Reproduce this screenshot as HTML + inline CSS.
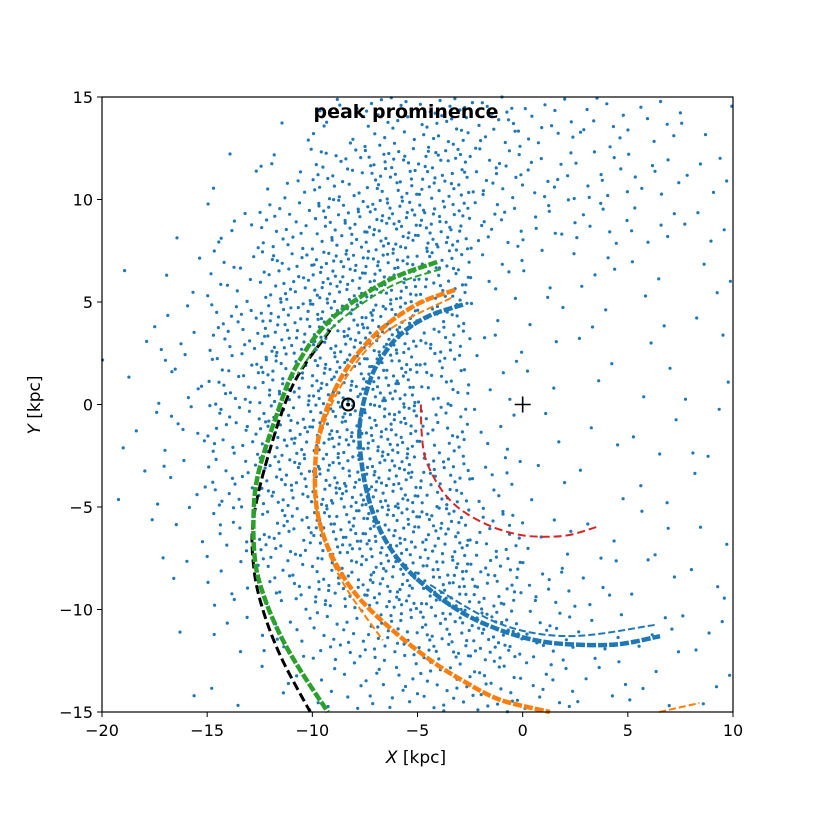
<!DOCTYPE html>
<html><head><meta charset="utf-8"><style>
body{margin:0;background:#fff}
svg{display:block;font-family:"DejaVu Sans","Liberation Sans",sans-serif}
</style></head><body>
<svg id="chart" width="814" height="814" viewBox="0 0 814 814">
<rect width="814" height="814" fill="#fff"/>
<g id="points"></g>
<g id="arcs"></g>
<g id="axes"></g>
<text x="406" y="118" text-anchor="middle" font-size="19" font-weight="bold">peak prominence</text>
<text x="416" y="763" text-anchor="middle" font-size="17"><tspan font-style="italic">X</tspan> [kpc]</text>
<text transform="translate(40,405) rotate(-90)" text-anchor="middle" font-size="17"><tspan font-style="italic">Y</tspan> [kpc]</text>
</svg>
<script>
// axis domains
const xDomain=[-20,10], yDomain=[-15,15];
const xTicks=[-20,-15,-10,-5,0,5,10];
const yTicks=[-15,-10,-5,0,5,10,15];
// density of scatter stars per 2.5 kpc cell (rows from y=15 down, cols from x=-20)
const densityRows=[
[0,0,0,2,10,20,25,20,12,10,8,3],
[0,0,3,10,25,35,35,20,12,10,8,5],
[0,1,8,20,35,45,40,15,10,8,6,4],
[1,3,12,30,45,50,35,8,4,4,3,3],
[1,6,20,40,50,50,30,5,3,3,2,2],
[2,8,22,40,50,50,25,5,2,2,2,2],
[2,8,22,40,50,50,25,6,2,2,3,2],
[2,6,18,35,50,50,35,10,3,2,2,2],
[1,4,12,30,45,50,40,20,5,3,3,2],
[0,2,8,20,35,45,45,30,12,5,3,3],
[0,1,4,12,20,30,35,35,15,6,5,4],
[0,1,2,5,10,15,20,20,12,6,4,3]];
// arc control points (kpc)
const greenArc=[[-4.07,6.95],[-6.5,6.0],[-9.15,4.12],[-10.8,1.8],[-11.78,-0.76],[-12.6,-3.5],[-12.8,-5.63],[-12.7,-7.8],[-12.25,-9.5],[-11.5,-11.3],[-10.58,-12.95],[-9.26,-15]];
const greenArc2=[[-3.9,6.6],[-6.4,5.7],[-9.0,3.8],[-10.7,1.5]];
const blackArc=[[-9.15,3.63],[-10.9,1.0],[-12.1,-2.5],[-12.8,-5.6],[-12.8,-7.8],[-12.4,-9.85],[-11.5,-12.3],[-10.1,-15]];
const orangeArc=[[-3.22,5.59],[-5.0,4.9],[-6.78,3.63],[-8.2,2.0],[-9.15,0.22],[-9.7,-1.6],[-9.87,-3.2],[-9.8,-5.0],[-9.4,-6.6],[-8.7,-8.1],[-7.73,-9.5],[-6.2,-11.0],[-4.4,-12.46],[-2.8,-13.5],[-1.08,-14.4],[1.3,-15]];
const orangeArc2=[[-3.4,5.2],[-6.8,3.3],[-9.0,0.2],[-9.9,-3.2],[-9.6,-6.0],[-8.6,-8.6],[-6.65,-11.5]];
const orangeTail=[[6.5,-15],[8.4,-14.56]];
const blueArc=[[-2.84,4.87],[-4.5,4.3],[-5.83,3.4],[-6.7,2.3],[-7.25,1.2],[-7.7,-0.6],[-7.73,-2.2],[-7.4,-4.3],[-6.78,-6.12],[-5.8,-7.7],[-4.4,-9.05],[-2.8,-10.2],[-1.08,-11],[0.6,-11.5],[2.25,-11.7],[4.5,-11.7],[6.53,-11.3]];
const blueArc2=[[-4.4,-8.8],[-1.08,-10.7],[2.25,-11.3],[6.3,-10.75]];
const redArc=[[-4.84,0],[-4.8,-1.4],[-4.6,-2.7],[-3.9,-4.1],[-2.98,-5.1],[-1.6,-5.9],[-0.13,-6.36],[1.2,-6.45],[2.25,-6.36],[3.5,-5.98]];
const sunPos=[-8.3,0], centerPos=[0,0];

const X0=102,X1=733,Y0=712,Y1=97;
function sx(v){return X0+(v-xDomain[0])/(xDomain[1]-xDomain[0])*(X1-X0);}
function sy(v){return Y0-(v-yDomain[0])/(yDomain[1]-yDomain[0])*(Y0-Y1);}
const NS="http://www.w3.org/2000/svg";
function mk(tag,attrs,parent){const e=document.createElementNS(NS,tag);for(const k in attrs)e.setAttribute(k,attrs[k]);parent.appendChild(e);return e;}
function halton(i,b){let f=1,r=0;while(i>0){f/=b;r+=f*(i%b);i=Math.floor(i/b);}return r;}

// scatter
const pg=document.getElementById('points');
const cw=(xDomain[1]-xDomain[0])/densityRows[0].length, ch=(yDomain[1]-yDomain[0])/densityRows.length;
densityRows.forEach((row,r)=>row.forEach((n,c)=>{
  const off=r*37+c*101+7;
  for(let i=0;i<n;i++){
    const fx=halton(i+off,2), fy=halton(i+off,3);
    const x=xDomain[0]+(c+fx)*cw, y=yDomain[1]-(r+fy)*ch;
    const d=mk('circle',{cx:sx(x).toFixed(1),cy:sy(y).toFixed(1),r:1.6,fill:'#1f77b4'},pg);
    
    
  }
}));

// arcs
function pathOf(pts){
  const p=pts.map(q=>[sx(q[0]),sy(q[1])]);
  let d='M'+p[0][0]+','+p[0][1];
  for(let i=0;i<p.length-1;i++){
    const a=p[i-1]||p[i],b=p[i],c=p[i+1],e=p[i+2]||c;
    d+=' C'+(b[0]+(c[0]-a[0])/6)+','+(b[1]+(c[1]-a[1])/6)+' '+(c[0]-(e[0]-b[0])/6)+','+(c[1]-(e[1]-b[1])/6)+' '+c[0]+','+c[1];
  }
  return d;
}
const ag=document.getElementById('arcs');
function arc(pts,color,w,dash,name){
  const el=mk('path',{d:pathOf(pts),fill:'none',stroke:color,'stroke-width':w,'stroke-dasharray':dash},ag);
  
  
}
arc(blueArc,'#1f77b4',4.5,'9,2','blue-arm-arc');
arc(blueArc2,'#1f77b4',2,'7,3','blue-arm-arc-2');
arc(orangeArc,'#ff7f0e',4.5,'9,2','orange-arm-arc');
arc(orangeArc2,'#ff7f0e',2,'7,3','orange-arm-arc-2');
arc(orangeTail,'#ff7f0e',2,'7,3','orange-arm-tail');
arc(blackArc,'#000',3,'9,4','black-arm-arc');
arc(greenArc,'#2ca02c',4.5,'9,2','green-arm-arc');
arc(greenArc2,'#2ca02c',2,'7,3','green-arm-arc-2');
arc(redArc,'#d62728',2,'8,4','red-arm-arc');

// markers
const sun=mk('g',{},ag);


mk('circle',{cx:sx(sunPos[0]),cy:sy(sunPos[1]),r:6,fill:'none',stroke:'#000','stroke-width':2},sun);
mk('circle',{cx:sx(sunPos[0]),cy:sy(sunPos[1]),r:2,fill:'#000'},sun);
const gc=mk('g',{stroke:'#000','stroke-width':1.6},ag);


mk('line',{x1:sx(centerPos[0])-8,x2:sx(centerPos[0])+8,y1:sy(centerPos[1]),y2:sy(centerPos[1])},gc);
mk('line',{x1:sx(centerPos[0]),x2:sx(centerPos[0]),y1:sy(centerPos[1])-8,y2:sy(centerPos[1])+8},gc);

// axes
const ax=document.getElementById('axes');
const fr=mk('rect',{x:X0,y:Y1,width:X1-X0,height:Y0-Y1,fill:'none',stroke:'#000','stroke-width':1.2},ax);


xTicks.forEach(t=>{
  mk('line',{x1:sx(t),x2:sx(t),y1:Y0,y2:Y0+5,stroke:'#000','stroke-width':1},ax);
  const tx=mk('text',{x:sx(t),y:Y0+24,'text-anchor':'middle','font-size':16},ax);
  tx.textContent=t<0?'\u2212'+(-t):String(t);
  
  
});
yTicks.forEach(t=>{
  mk('line',{x1:X0-5,x2:X0,y1:sy(t),y2:sy(t),stroke:'#000','stroke-width':1},ax);
  const tx=mk('text',{x:X0-9,y:sy(t)+6,'text-anchor':'end','font-size':16},ax);
  tx.textContent=t<0?'\u2212'+(-t):String(t);
  
  
});
</script>
</body></html>
